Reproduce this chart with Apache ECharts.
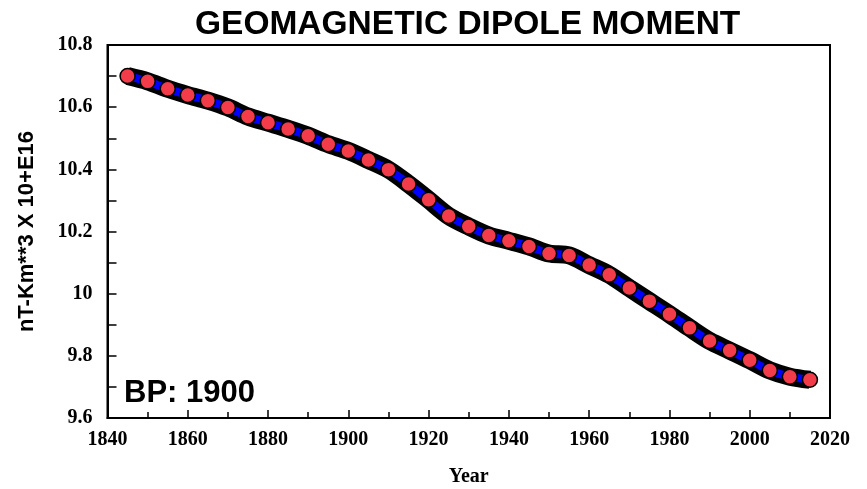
<!DOCTYPE html>
<html>
<head>
<meta charset="utf-8">
<script src="https://cdn.jsdelivr.net/npm/echarts@6/dist/echarts.min.js"></script>
<style>html,body{margin:0;padding:0;background:#fff}#c{width:867px;height:489px}</style>
</head>
<body>
<div id="c"></div>
<script>
const titleText = 'GEOMAGNETIC DIPOLE MOMENT';
const yAxisName = 'nT-Km**3 X 10+E16';
const xAxisName = 'Year';
const noteText = 'BP: 1900';
const years = [1845,1850,1855,1860,1865,1870,1875,1880,1885,1890,1895,1900,1905,1910,1915,1920,1925,1930,1935,1940,1945,1950,1955,1960,1965,1970,1975,1980,1985,1990,1995,2000,2005,2010,2015];
const dipole = [10.700,10.683,10.659,10.639,10.621,10.599,10.570,10.550,10.530,10.508,10.481,10.459,10.430,10.399,10.353,10.302,10.250,10.216,10.187,10.170,10.152,10.129,10.123,10.092,10.061,10.018,9.976,9.934,9.890,9.848,9.817,9.786,9.753,9.733,9.723];

const pts = years.map((y, i) => [y, dipole[i]]);
const chart = echarts.init(document.getElementById('c'), null, {renderer: 'canvas'});
const lblFont = {color: '#000', fontFamily: 'Liberation Serif', fontWeight: 'bold', fontSize: 20};
chart.setOption({
  animation: false,
  backgroundColor: '#fff',
  title: {
    text: titleText, left: 190, top: 3,
    textStyle: {fontFamily: 'Liberation Sans', fontWeight: 'bold', fontSize: 33.5, color: '#000'}
  },
  graphic: [{
    type: 'text', left: 124, top: 378,
    style: {text: noteText, font: 'bold 31px "Liberation Sans"', fill: '#000'}
  }],
  grid: {left: 107.5, right: 37, top: 45, bottom: 71, outerBoundsMode: 'none', containLabel: false,
         show: true, borderColor: '#000', borderWidth: 2, backgroundColor: '#fff'},
  xAxis: {
    type: 'value', min: 1840, max: 2020, interval: 20,
    name: xAxisName, nameLocation: 'middle', nameGap: 49,
    nameTextStyle: {fontFamily: 'Liberation Serif', fontWeight: 'bold', fontSize: 20, color: '#000'},
    axisLine: {lineStyle: {color: '#000', width: 2}},
    axisTick: {inside: true, length: 8, lineStyle: {color: '#000', width: 1.5}},
    minorTick: {show: true, splitNumber: 2, length: 6, lineStyle: {color: '#000', width: 1.5}},
    axisLabel: Object.assign({margin: 12, formatter: v => String(Math.round(v))}, lblFont),
    splitLine: {show: false}
  },
  yAxis: {
    type: 'value', min: 9.6, max: 10.8, interval: 0.2,
    name: yAxisName, nameLocation: 'middle', nameGap: 70,
    nameTextStyle: {fontFamily: 'Liberation Sans', fontWeight: 'bold', fontSize: 22, color: '#000'},
    axisLine: {lineStyle: {color: '#000', width: 2}},
    axisTick: {inside: true, length: 9, lineStyle: {color: '#000', width: 1.5}},
    minorTick: {show: true, splitNumber: 2, length: 9, lineStyle: {color: '#000', width: 1.5}},
    axisLabel: Object.assign({margin: 15, formatter: v => (Math.round(v * 10) / 10).toString()}, lblFont),
    splitLine: {show: false}
  },
  series: [
    {type: 'line', data: pts, showSymbol: false, smooth: 0.3, lineStyle: {color: '#000', width: 18}, z: 2},
    {type: 'line', data: pts, showSymbol: false, smooth: 0.3, lineStyle: {color: '#0000ff', width: 8}, z: 3},
    {type: 'scatter', data: pts, symbol: 'circle', symbolSize: 15,
     itemStyle: {color: '#f23c4a', borderColor: '#000', borderWidth: 1.5, opacity: 1}, z: 4}
  ]
});
</script>
</body>
</html>
